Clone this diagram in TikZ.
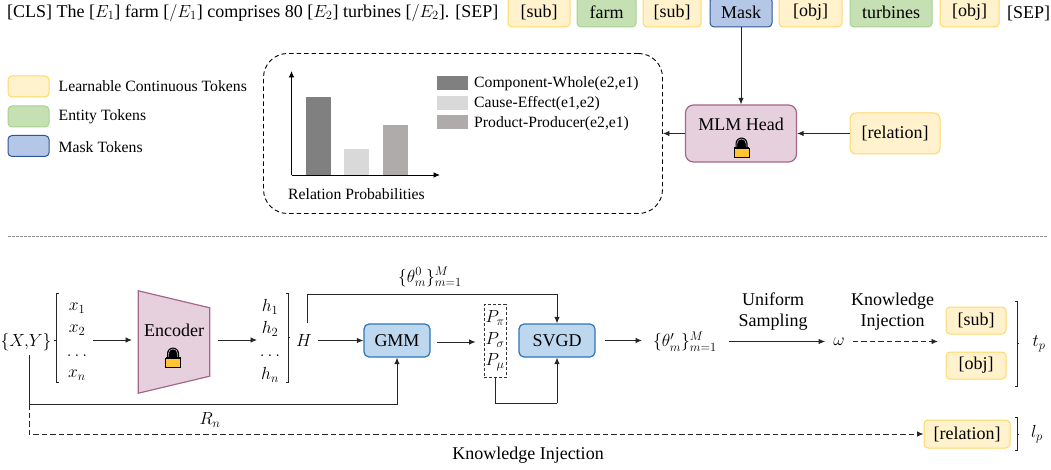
\RequirePackage{fix-cm}
\documentclass[tikz,border=0pt]{standalone}
\usepackage{fontspec}
\setmainfont{Liberation Serif}
\usetikzlibrary{arrows.meta,calc}
\DeclareMathSizes{18}{17.5}{12.5}{9.5}
\definecolor{yf}{HTML}{FFF2CC}\definecolor{ys}{HTML}{FFD966}
\definecolor{gf}{HTML}{C5E0B3}\definecolor{gs}{HTML}{A9D18E}
\definecolor{bf}{HTML}{B4C7E7}\definecolor{bs}{HTML}{2F5597}
\definecolor{mf}{HTML}{E6D0DE}\definecolor{ms}{HTML}{A5668B}
\definecolor{sf}{HTML}{BDD7EE}\definecolor{ss}{HTML}{2E75B6}
\definecolor{lockc}{HTML}{FFC535}
\definecolor{bara}{HTML}{808080}\definecolor{barb}{HTML}{D9D9D9}\definecolor{barc}{HTML}{AFABAB}
\tikzset{
  tok/.style={draw,rounded corners=4pt,line width=1pt,inner sep=0pt,text=black},
  ytok/.style={tok,draw=ys,fill=yf},
  gtok/.style={tok,draw=gs,fill=gf},
  btok/.style={tok,draw=bs,fill=bf},
  solver/.style={tok,draw=ss,fill=sf,line width=1.2pt,rounded corners=5pt,minimum width=#1,minimum height=33pt},
  txt/.style={inner sep=0pt,text=black},
  small/.style={font=\fontsize{15.7}{18}\selectfont},
  link/.style={line width=0.9pt,draw=black!85,-{Latex[length=6.5pt,width=5.5pt]}},
  plain/.style={line width=0.9pt,draw=black!85},
  dlink/.style={link,dash pattern=on 5.5pt off 3pt},
  brk/.style={line width=0.9pt,draw=black!85},
  lock/.pic={
    \fill[black] (-6,1) -- (-6,-4.5) arc[start angle=180,end angle=360,radius=6] -- (6,1) -- cycle;
    \draw[white!75!black,line width=0.6pt] (-4.6,-1) -- (-4.6,-4.5) arc[start angle=180,end angle=360,radius=4.6] -- (4.6,-1);
    \draw[black,fill=lockc,line width=0.9pt] (-7.5,0) rectangle (7.5,9);
    \draw[black,line width=1.3pt] (-7.5,0) -- (7.5,0);
  }
}
\begin{document}
\begin{tikzpicture}[x=1pt,y=-1pt,font=\fontsize{18}{21}\selectfont]
\useasboundingbox (0,0) rectangle (1051,470);
% top sentence
\node[txt,anchor=west] (sent) at (7,13) {[CLS] The [$E_1$] farm [$/E_1$] comprises 80 [$E_2$] turbines [$/E_2$]. [SEP]};
\node[ytok,minimum width=62pt,minimum height=30pt] (t1) at (539,12) {[sub]};
\node[gtok,minimum width=59pt,minimum height=30pt] (t2) at (606.5,12) {farm};
\node[ytok,minimum width=58pt,minimum height=30pt] (t3) at (672,12) {[sub]};
\node[btok,minimum width=62pt,minimum height=30pt] (mask) at (741,12) {Mask};
\node[ytok,minimum width=63pt,minimum height=30pt] (t5) at (810.5,12) {[obj]};
\node[gtok,minimum width=82pt,minimum height=30pt] (t6) at (891,12) {turbines};
\node[ytok,minimum width=59pt,minimum height=30pt] (t7) at (969.5,12) {[obj]};
\node[txt] (sep) at (1028.5,13) {[SEP]};
% legend
\node[ytok,minimum width=41pt,minimum height=21pt] (l1) at (28.5,86.5) {};
\node[gtok,minimum width=41pt,minimum height=21pt] (l2) at (28.5,116.5) {};
\node[btok,minimum width=41pt,minimum height=21pt] (l3) at (28.5,146) {};
\node[txt,small,anchor=west] (lt1) at (58.5,86) {Learnable Continuous Tokens};
\node[txt,small,anchor=west] (lt2) at (58.5,117) {Entity Tokens};
\node[txt,small,anchor=west] (lt3) at (58.5,147) {Mask Tokens};
% probability panel
\node[draw=black,line width=0.9pt,dash pattern=on 4.5pt off 3pt,rounded corners=24pt,minimum width=399pt,minimum height=160pt,inner sep=0pt] (panel) at (463,133.5) {};
\fill[fill=bara] (306,97) rectangle (331,175);
\fill[fill=barb] (344,149) rectangle (369,175);
\fill[fill=barc] (383,125) rectangle (408,175);
\draw[link,draw=black] (291.5,175) -- (291.5,71);
\draw[link,draw=black] (291.5,175) -- (440,175);
\fill[bara] (437,76) rectangle (468,90);
\fill[barb] (437,96) rectangle (468,110);
\fill[barc] (437,115) rectangle (468,129);
\node[txt,small,anchor=west] (c1) at (474,84) {Component-Whole(e2,e1)};
\node[txt,small,anchor=west] (c2) at (474,104) {Cause-Effect(e1,e2)};
\node[txt,small,anchor=west] (c3) at (474,124) {Product-Producer(e2,e1)};
\node[txt,small,anchor=west] (rp) at (288,194) {Relation Probabilities};
% MLM
\node[tok,draw=ms,fill=mf,line width=1.2pt,rounded corners=8pt,minimum width=111pt,minimum height=57pt] (mlm) at (741,133.5) {};
\node[txt] (mlmt) at (741,124) {MLM Head};
\pic at (741.5,148) {lock};
\node[ytok,minimum width=90pt,minimum height=41pt,rounded corners=6pt] (rel) at (895,133.5) {[relation]};
\draw[link] (mask.south) -- (mlm.north);
\draw[link] (rel.west) -- (mlm.east);
\draw[link] (mlm.west) -- (panel.east);
% separator
\draw[black!45,line width=0.8pt,dash pattern=on 2.5pt off 1.5pt] (8,236) -- (1047,236);
% lower part
\node[txt] (xy) at (26,342) {$\{X,\!Y\}$};
\draw[brk] (58.5,293.5) -- (56,293.5) -- (56,382.5) -- (58.5,382.5);
\draw[brk] (54,340) -- (56,340);
\node[txt] (x1) at (77,308) {$x_1$};
\node[txt] (x2) at (77,330) {$x_2$};
\node[txt] (x3) at (77,356) {$\dots$};
\node[txt] (x4) at (77,375) {$x_n$};
\coordinate (xout) at (93,340);
\node[minimum width=71pt,minimum height=102pt,inner sep=0pt] (enc) at (174,342) {};
\draw[draw=ms,fill=mf,line width=1.2pt] (enc.north west) -- ($(enc.north east)+(0,17)$) -- ($(enc.south east)+(0,-17)$) -- (enc.south west) -- cycle;
\node[txt] (enct) at (174,330) {Encoder};
\pic at (173,358) {lock};
\coordinate (encin) at (132,340);
\coordinate (encout) at (218,340);
\draw[link] (xout) -- (encin);
\coordinate (hin) at (257,340);
\draw[link] (encout) -- (hin);
\node[txt] (h1) at (270,307) {$h_1$};
\node[txt] (h2) at (270,329) {$h_2$};
\node[txt] (h3) at (270,356) {$\dots$};
\node[txt] (h4) at (270,375) {$h_n$};
\draw[brk] (285.5,293.5) -- (288,293.5) -- (288,382.5) -- (285.5,382.5);
\draw[brk] (288,337) -- (290,337);
\node[txt,minimum width=28pt,minimum height=34pt] (H) at (304,340.5) {$H$};
\node[solver=66pt] (gmm) at (397,340.5) {GMM};
\node[solver=76pt] (svgd) at (557,340.5) {SVGD};
\draw[link] (H.east) -- (gmm.west);
\coordinate (gout) at (437,342);
\node[draw=black!80,line width=0.8pt,dash pattern=on 3pt off 2pt,minimum width=22pt,minimum height=73pt,inner sep=0pt] (P) at (495,341) {};
\node[txt] (p1) at (495,318) {$P_\pi$};
\node[txt] (p2) at (495,340) {$P_\sigma$};
\node[txt] (p3) at (495,362) {$P_\mu$};
\draw[link] (gout) -- ([xshift=-8pt]P.west|-gout);
\draw[link] ([xshift=3pt]H.north) |- (557,294) -- (svgd.north);
\draw[plain] (P.south) |- (557,403);
\draw[link] (557,403) -- (svgd.south);
\node[txt] (theta0) at (430,277) {$\{\theta_m^0\}_{m=1}^M$};
\coordinate (xyd) at (29,355);
\coordinate (xyb) at (29,404);
\draw[plain] (xyd) -- (xyb);
\draw[link] (xyb) -| (gmm.south);
\node[txt] (rn) at (210,420) {$R_n$};
\node[txt] (th) at (685,341.5) {$\{\theta_m'\}_{m=1}^M$};
\coordinate (thin) at (642,340.5);
\draw[link] ([xshift=9pt]svgd.east) -- (thin);
\node[txt] (om) at (839,341.5) {$\omega$};
\coordinate (uin) at (729,341.5);
\draw[link] (uin) -- ([xshift=-8pt]om.west);
\node[txt,align=center] (us) at (773,311.5) {Uniform\\Sampling};
\node[txt,align=center] (ki) at (892.5,311.5) {Knowledge\\Injection};
\node[ytok,minimum width=60pt,minimum height=27pt] (sub) at (976,320.5) {[sub]};
\node[ytok,minimum width=60pt,minimum height=27pt] (obj) at (976,365.5) {[obj]};
\coordinate (dend) at (938,341.5);
\draw[dlink] ([xshift=8pt]om.east) -- (dend);
\draw[brk] (1014.5,301.5) -- (1017,301.5) -- (1017,386) -- (1014.5,386);
\draw[brk] (1017,343) -- (1019,343);
\node[txt] (tp) at (1039,344) {$t_p$};
\node[ytok,minimum width=86pt,minimum height=28pt] (rel2) at (967,434) {[relation]};
\draw[brk] (1014.5,417.5) -- (1017,417.5) -- (1017,450) -- (1014.5,450);
\draw[brk] (1017,434) -- (1019,434);
\node[txt] (lp) at (1037,434) {$l_p$};
\draw[dlink] (xyb) |- (rel2.west);
\node[txt] (kib) at (528,455) {Knowledge Injection};
\end{tikzpicture}
\end{document}
